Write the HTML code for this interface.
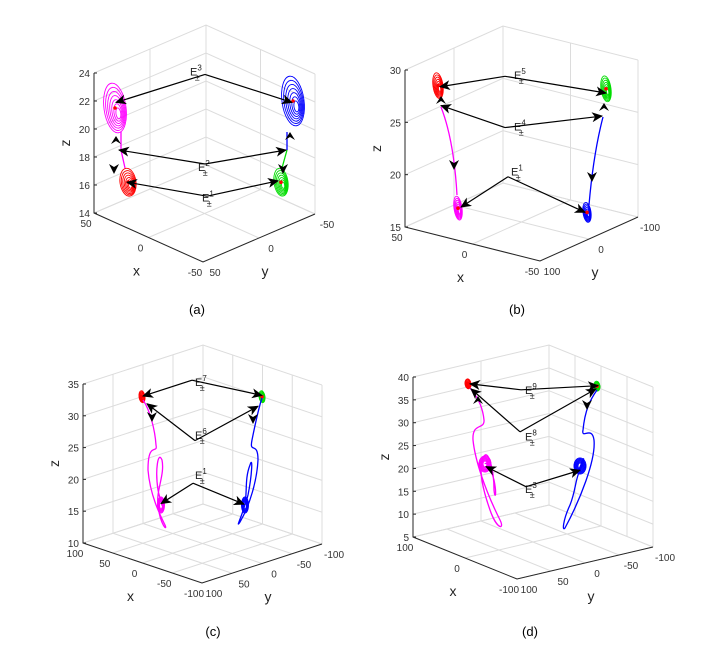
<!DOCTYPE html>
<html><head><meta charset="utf-8"><style>
body{margin:0;background:#fff}
svg{display:block}
text{font-family:"Liberation Sans",sans-serif}
</style></head><body>
<svg id="fig" width="710" height="645" viewBox="0 0 710 645" xmlns="http://www.w3.org/2000/svg">
<defs><marker id="ah" markerWidth="12" markerHeight="10" refX="10" refY="5" orient="auto" markerUnits="userSpaceOnUse"><path d="M0,0 L11,5 L0,10 L3,5 z" fill="#000"/></marker></defs>
</svg>
<script>
// ---- data ----
const zTicksA=[14,16,18,20,22,24], xTicksA=[50,0,-50], yTicksA=[50,0,-50];
const zTicksB=[15,20,25,30], xTicksB=[50,0,-50], yTicksB=[100,0,-100];
const zTicksC=[10,15,20,25,30,35], xTicksC=[100,50,0,-50,-100], yTicksC=[100,50,0,-50,-100];
const zTicksD=[5,10,15,20,25,30,35,40], xTicksD=[100,0,-100], yTicksD=[100,50,0,-50,-100];
// attractors: screen x, z value, radii, color
const attrA=[[115,21.5,11,25,'#f0f'],[128,16.2,8,14,'#f00'],[293,22,11,25,'#00f'],[281,16.2,7,14,'#0d0']];
const attrB=[[438,28.5,5,13,'#f00'],[606,28.2,5,13,'#0d0'],[458,16.8,4,12,'#f0f'],[587,16.4,4,10,'#00f']];
const attrC=[[142,33,3,6,'#f00'],[262,33,3,6,'#0d0']];
const attrD=[[468,38.5,3,5,'#f00'],[597,38,3,5,'#0d0']];
// equilibria: [sup, label x, label z, hub x, hub z, targets]
const eqA=[['3',190,24.1,205,23.9,[[116,21.9],[292,21.9]]],['2',198,17.3,205,17.5,[[119,18.5],[286,18.5]]],['1',202,15.1,207,15.2,[[127,16.2],[278,16.3]]]];
const eqB=[['5',514,29.5,505,29.4,[[440,28.4],[606,27.8]]],['4',514,24.6,505,24.5,[[441,26.6],[602,25.6]]],['1',511,20.3,508,19.8,[[461,16.9],[585,16.4]]]];
const eqC=[['7',195,35.3,192,35.6,[[143,33.1],[262,33.2]]],['6',195,27.0,195,26.1,[[147,31.9],[258,31.5]]],['1',195,20.7,193,19.4,[[161,16.2],[244,16.1]]]];
const eqD=[['9',525,37.2,521,37.2,[[470,38.5],[598,38.1]]],['8',525,27.0,520,28.0,[[471,37.4],[596,37.4]]],['3',525,15.5,526,16.0,[[486,20.4],[580,19.6]]]];

const svg=document.getElementById('fig');
const NS='http://www.w3.org/2000/svg';
function mk(tag,attrs,parent){const e=document.createElementNS(NS,tag);for(const k in attrs)e.setAttribute(k,attrs[k]);(parent||svg).appendChild(e);return e;}

function panel(id,cfg){
  const g=mk('g',{});
  
  
  const {L,F,R,H,zT,xT,yT}=cfg;
  const B=[L[0]+R[0]-F[0],L[1]+R[1]-F[1]];
  const z0=zT[0],z1=zT[zT.length-1];
  const zy=z=> (z-z0)/(z1-z0)*H;
  const Y=(x,z)=>L[1]-zy(z);
  const lerp=(a,b,t)=>[a[0]+(b[0]-a[0])*t,a[1]+(b[1]-a[1])*t];
  const grid='#dcdcdc';
  zT.forEach(z=>{const h=zy(z);
    const l=mk('polyline',{points:`${L[0]},${L[1]-h} ${B[0]},${B[1]-h} ${R[0]},${R[1]-h}`,fill:'none',stroke:grid,'stroke-width':1},g);
    });
  const xmin=xT[0],xmax=xT[xT.length-1],ymin=yT[0],ymax=yT[yT.length-1];
  xT.forEach(v=>{const t=(v-xmin)/(xmax-xmin);
    const a=lerp(L,F,t),b=lerp(B,R,t),p=lerp(L,B,t);
    mk('line',{x1:a[0],y1:a[1],x2:b[0],y2:b[1],stroke:grid},g);
    mk('line',{x1:p[0],y1:p[1],x2:p[0],y2:p[1]-H,stroke:grid},g);
    const tl=mk('text',{x:a[0]-8,y:a[1]+14,'font-size':10,fill:'#333','text-anchor':'middle'},g);tl.textContent=v;
    });
  yT.forEach(v=>{const s=(v-ymin)/(ymax-ymin);
    const a=lerp(L,B,s),b=lerp(F,R,s),p=lerp(B,R,s);
    mk('line',{x1:a[0],y1:a[1],x2:b[0],y2:b[1],stroke:grid},g);
    mk('line',{x1:p[0],y1:p[1],x2:p[0],y2:p[1]-H,stroke:grid},g);
    const tl=mk('text',{x:b[0]+12,y:b[1]+14,'font-size':10,fill:'#333','text-anchor':'middle'},g);tl.textContent=v;
    });
  mk('line',{x1:B[0],y1:B[1],x2:B[0],y2:B[1]-H,stroke:grid},g);
  const ax=mk('polyline',{points:`${L[0]},${L[1]-H} ${L[0]},${L[1]} ${F[0]},${F[1]} ${R[0]},${R[1]}`,fill:'none',stroke:'#262626','stroke-width':1},g);
  
  zT.forEach(z=>{const y=L[1]-zy(z);
    mk('line',{x1:L[0],y1:y,x2:L[0]+3,y2:y,stroke:'#262626'},g);
    const t=mk('text',{x:L[0]-4,y:y+4,'font-size':10,fill:'#333','text-anchor':'end'},g);t.textContent=z;
    });
  const xl=lerp(L,F,0.5),yl=lerp(F,R,0.5);
  let t=mk('text',{x:xl[0]-12,y:xl[1]+38,'font-size':14,fill:'#222','text-anchor':'middle'},g);t.textContent='x';
  
  t=mk('text',{x:yl[0]+6,y:yl[1]+38,'font-size':14,fill:'#222','text-anchor':'middle'},g);t.textContent='y';
  
  const zm=L[1]-H/2;
  t=mk('text',{x:L[0]-24,y:zm,'font-size':14,fill:'#222','text-anchor':'middle',transform:`rotate(-90 ${L[0]-24} ${zm})`},g);t.textContent='z';
  
  cfg.attr.forEach(a=>{const cx=a[0],cy=Y(cx,a[1]);
    const ag=mk('g',{},g);
    for(let k=0;k<7;k++){const f=1-k*0.13;
      mk('ellipse',{cx:cx+(1-f)*a[2]*0.3,cy:cy+(1-f)*a[3]*0.3,rx:a[2]*f,ry:a[3]*f,fill:'none',stroke:a[4],'stroke-width':0.9,transform:`rotate(-8 ${cx} ${cy})`},ag);}
    mk('circle',{cx:cx,cy:cy,r:1.8,fill:'#f00'},ag);
  });
  if(cfg.extra) cfg.extra(g,Y);
  cfg.eq.forEach(e=>{
    const hx=e[3],hy=Y(hx,e[4]);
    const lab=mk('text',{x:e[1],y:Y(e[1],e[2])+4,'font-size':11,fill:'#222'},g);
    lab.innerHTML='E<tspan dy="-5" font-size="8">'+e[0]+'</tspan><tspan dx="-7" dy="10" font-size="9">±</tspan>';
    
    e[5].forEach(tg=>{const ar=mk('line',{x1:hx,y1:hy,x2:tg[0],y2:Y(tg[0],tg[1]),stroke:'#000','stroke-width':1.2,'marker-end':'url(#ah)'},g);
      });
  });
  const c=mk('text',{x:cfg.cap[0],y:cfg.cap[1],'font-size':13,'font-family':'Liberation Serif, serif',fill:'#000','text-anchor':'middle'},g);
  c.textContent='('+id+')';
}
function curve(g,d,col,w){const p=mk('path',{d:d,fill:'none',stroke:col,'stroke-width':w||1.3},g);return p;}
function downArrow(g,x,y){const p=mk('path',{d:`M${x-5},${y-8} L${x},${y+2} L${x+5},${y-8} L${x},${y-5} z`,fill:'#000'},g);}

panel('a',{L:[94,213],F:[203,262],R:[315,214],H:140,zT:zTicksA,xT:xTicksA,yT:yTicksA,attr:attrA,eq:eqA,cap:[197,314],
  extra:(g)=>{curve(g,'M121,132 L121,150 L125,168','#f0f');curve(g,'M287,132 L287,150','#00f');
    curve(g,'M287,150 L282,168','#0d0');downArrow(g,114,172);downArrow(g,283,172);
    mk('path',{d:'M116,136 l-5,8 l5,-3 l5,3z',fill:'#000'},g);mk('path',{d:'M290,132 l-5,8 l5,-3 l5,3z',fill:'#000'},g);}});
panel('b',{L:[405,227],F:[540,261],R:[638,217],H:157,zT:zTicksB,xT:xTicksB,yT:yTicksB,attr:attrB,eq:eqB,cap:[517,314],
  extra:(g)=>{curve(g,'M441,107 C450,130 455,160 457,195','#f0f');curve(g,'M603,117 C597,140 592,170 589,205','#00f');
    downArrow(g,454,168);downArrow(g,592,180);
    mk('path',{d:'M441,96 l-5,8 l5,-3 l5,3z',fill:'#000'},g);mk('path',{d:'M604,103 l-5,8 l5,-3 l5,3z',fill:'#000'},g);}});
panel('c',{L:[83,543],F:[202,583],R:[322,544],H:159,zT:zTicksC,xT:xTicksC,yT:yTicksC,attr:attrC,eq:eqC,cap:[213,636],
  extra:(g)=>{curve(g,'M143,400 C150,410 155,430 156,445 C158,455 148,440 148,470 C150,495 160,515 165,525 C168,532 160,525 158,505 C156,490 165,475 162,460 C158,450 155,470 158,490 C160,500 163,505 161,505','#f0f');
    for(let k=0;k<5;k++)mk('ellipse',{cx:161,cy:505,rx:3.5-k*0.5,ry:8-k,fill:'none',stroke:'#f0f'},g);
    curve(g,'M262,398 C258,410 255,425 252,440 C249,455 258,440 258,460 C257,480 250,505 240,522 C236,528 240,520 244,508 C248,495 244,480 250,465 C253,455 252,475 248,495 C246,503 245,505 245,505','#00f');
    for(let k=0;k<5;k++)mk('ellipse',{cx:245,cy:505,rx:3.5-k*0.5,ry:8-k,fill:'none',stroke:'#00f'},g);
    downArrow(g,152,420);downArrow(g,253,422);}});
panel('d',{L:[413,537],F:[517,579],R:[653,547],H:160,zT:zTicksD,xT:xTicksD,yT:yTicksD,attr:attrD,eq:eqD,cap:[530,636],
  extra:(g)=>{curve(g,'M470,388 C480,400 483,410 484,420 C485,430 472,422 473,440 C475,460 485,490 500,520 C505,530 497,530 490,510 C483,490 478,470 483,458 C488,446 494,470 494,490 C495,500 497,495 494,480 C490,465 486,462 485,464','#f0f');
    for(let k=0;k<6;k++)mk('ellipse',{cx:485,cy:464,rx:6-k*0.8,ry:8-k,fill:'none',stroke:'#f0f'},g);
    curve(g,'M597,390 C590,400 585,410 583,430 C581,440 592,425 594,440 C596,460 580,500 565,528 C562,532 563,520 570,505 C576,490 575,480 580,470 C585,460 584,455 582,462 C580,468 578,470 580,469','#00f');
    for(let k=0;k<6;k++)mk('ellipse',{cx:580,cy:466,rx:6-k*0.8,ry:8-k,fill:'none',stroke:'#00f'},g);
    mk('path',{d:'M478,396 l-5,8 l5,-3 l5,3z',fill:'#000'},g);downArrow(g,587,408);}});
</script>
</body></html>
